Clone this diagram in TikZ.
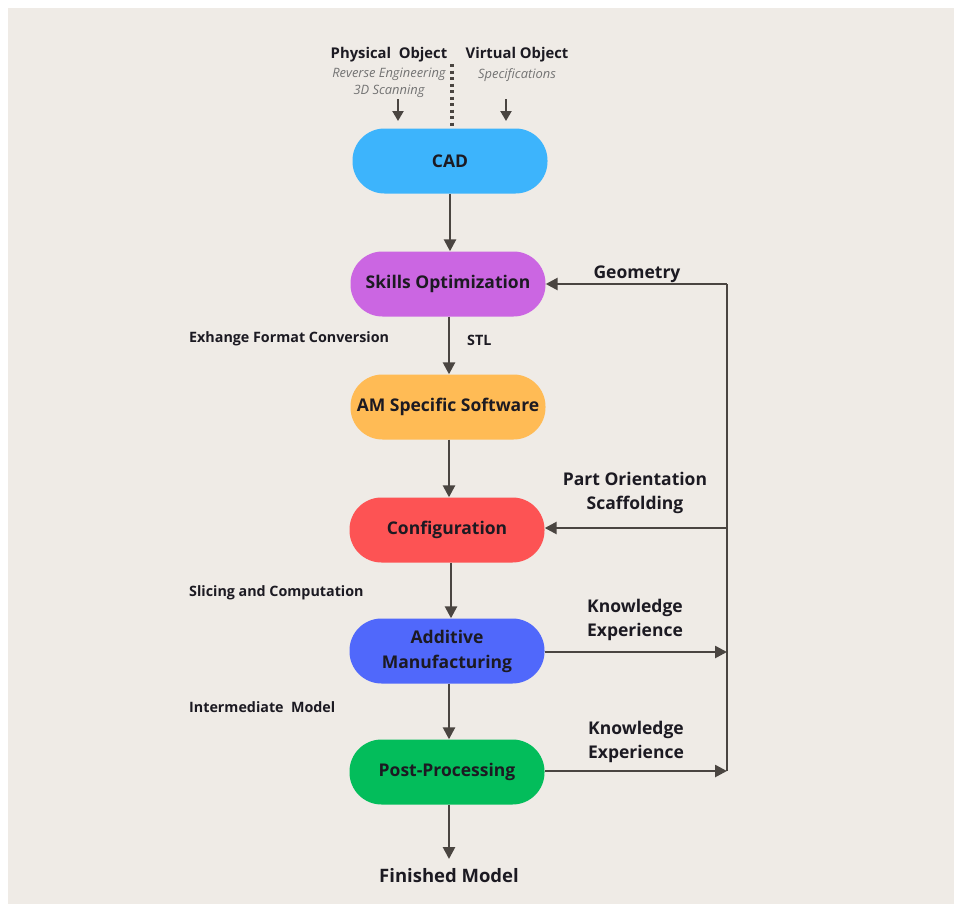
\documentclass[tikz,border=0pt]{standalone}
\usepackage{fontspec}
\setmainfont{Open Sans}
\usetikzlibrary{arrows.meta}
\definecolor{paper}{HTML}{EFEBE6}
\definecolor{ink}{HTML}{1C1A22}
\definecolor{wire}{HTML}{4A4541}
\definecolor{cadc}{HTML}{3DB4FC}
\definecolor{skillc}{HTML}{CB66E2}
\definecolor{amswc}{HTML}{FFBB55}
\definecolor{confc}{HTML}{FD5354}
\definecolor{addc}{HTML}{5068FB}
\definecolor{postc}{HTML}{03BD5B}
\tikzset{
  stage/.style={rounded corners=32pt, minimum width=195pt, minimum height=65pt,
    inner sep=0pt, align=center, text=ink, font=\fontsize{17.5}{25}\selectfont\bfseries},
  lbl/.style={text=ink, font=\fontsize{17.5}{24}\selectfont\bfseries, align=center, inner sep=0pt},
  small/.style={text=ink, font=\fontsize{14.3}{17}\selectfont\bfseries, inner sep=0pt},
  note/.style={text=black!55, font=\fontsize{12.9}{17}\selectfont\itshape, align=center, inner sep=0pt},
  flow/.style={draw=wire, line width=2.6pt, -{Triangle[length=12pt,width=12pt]}},
  wirel/.style={draw=wire, line width=2.6pt}
}
\begin{document}
\begin{tikzpicture}[x=1pt,y=-1pt]
\useasboundingbox (0,0) rectangle (954,906);
\fill[white] (0,0) rectangle (954,906);
\fill[paper] (8,8) rectangle (954,904);

% process stages
\node[stage, fill=cadc]   (cad)  at (450,161) {CAD};
\node[stage, fill=skillc] (skl)  at (448,284) {Skills Optimization};
\node[stage, fill=amswc]  (amsw) at (448,407) {AM Specific Software};
\node[stage, fill=confc]  (conf) at (447,530) {Configuration};
\node[stage, fill=addc]   (add)  at (447,651) {Additive\\Manufacturing};
\node[stage, fill=postc]  (post) at (447,772) {Post-Processing};
\node[lbl, font=\fontsize{18.5}{24}\selectfont\bfseries] (fin) at (449,876) {Finished Model};

% inputs to CAD
\node[lbl, font=\fontsize{14.8}{18}\selectfont\bfseries] (phys) at (389,55) {Physical\ \ Object};
\node[note] (phn) at (389,83) {Reverse Engineering\\3D Scanning};
\node[lbl, font=\fontsize{14.8}{18}\selectfont\bfseries] (virt) at (517,55) {Virtual Object};
\node[note] (vin) at (517,75) {Specifications};
\coordinate (pa) at (398,99);
\coordinate (pb) at (398,121);
\coordinate (va) at (506,99);
\coordinate (vb) at (506,121);
\draw[draw=wire, line width=2.2pt, -{Triangle[length=10pt,width=11pt]}] (pa) -- (pb);
\draw[draw=wire, line width=2.2pt, -{Triangle[length=10pt,width=11pt]}] (va) -- (vb);
\coordinate (dt) at (452,64);
\draw[wire, line width=3.2pt, dash pattern=on 3pt off 3.5pt] (dt) -- (dt |- cad.north);

% main flow
\draw[flow] (cad.south -| 450,0) -- (skl.north -| 450,0);
\draw[flow] (skl.south -| 449,0) -- (amsw.north -| 449,0);
\draw[flow] (amsw.south -| 449,0) -- (conf.north -| 449,0);
\draw[flow] (conf.south -| 451,0) -- (add.north -| 451,0);
\draw[flow] (add.south -| 449,0) -- (post.north -| 449,0);
\draw[flow] (post.south -| 449,0) -- (449,859);

% feedback loop
\coordinate (rt) at (727,284);
\coordinate (rc) at (727,528);
\coordinate (ra) at (727,652);
\coordinate (rb) at (727,771);
\draw[wirel] (rt) -- (rb);
\draw[flow] (rt) -- (skl.east);
\draw[flow] (rc) -- (conf.east |- rc);
\draw[flow] (add.east |- ra) -- (ra);
\draw[flow] (post.east |- rb) -- (rb);

% connector labels
\node[lbl] (geo) at (637,274) {Geometry};
\node[lbl] (orient) at (635,493) {Part Orientation\\Scaffolding};
\node[lbl] (ke1) at (635,620) {Knowledge\\Experience};
\node[lbl] (ke2) at (636,742) {Knowledge\\Experience};
\node[small, anchor=west] (exf) at (189,339) {Exhange Format Conversion};
\node[small, anchor=west] (stl) at (467,340) {STL};
\node[small, anchor=west] (slc) at (189,593) {Slicing and Computation};
\node[small, anchor=west] (imd) at (189,707) {Intermediate\ \ Model};
\end{tikzpicture}
\end{document}
